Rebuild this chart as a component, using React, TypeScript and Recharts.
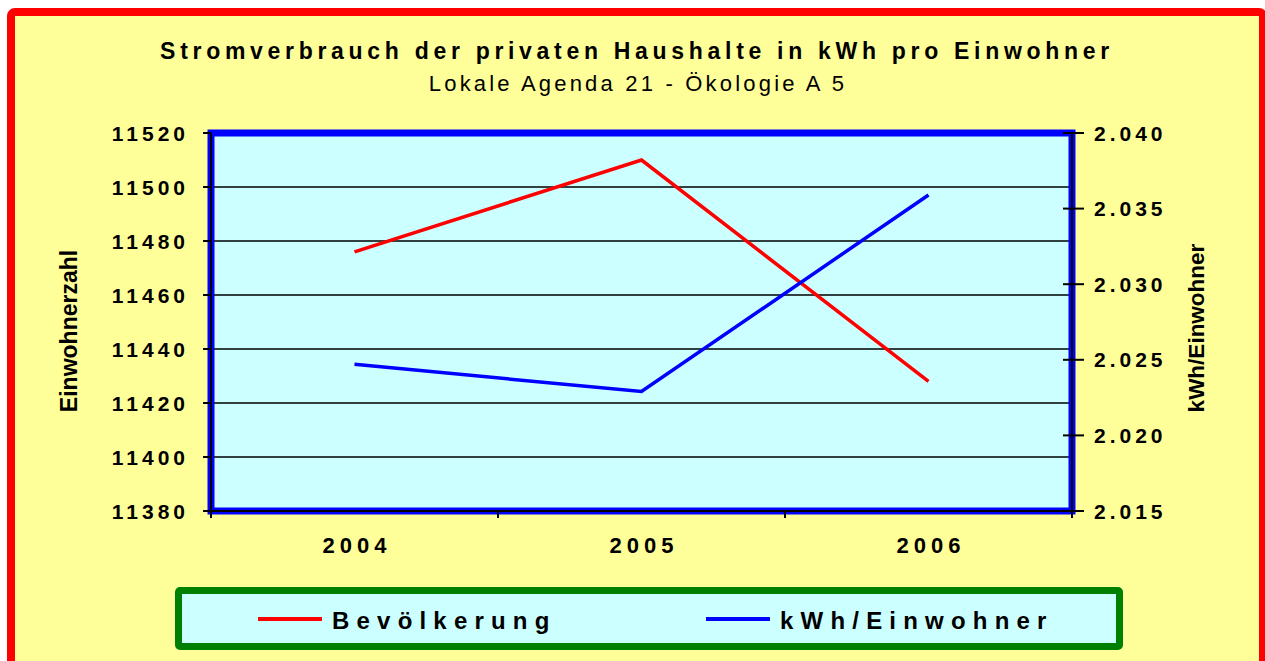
import React from 'react';
import { ComposedChart, Line, XAxis, YAxis, CartesianGrid, ReferenceArea, Legend } from 'recharts';

const years = ['2004', '2005', '2006'];
const bevoelkerung = [11476, 11510, 11428];
const kwhProEinwohner = [2.0247, 2.0229, 2.0359];
const leftTicks = [11380, 11400, 11420, 11440, 11460, 11480, 11500, 11520];
const rightTicks = [2.015, 2.02, 2.025, 2.03, 2.035, 2.04];
const titleText = 'Stromverbrauch der privaten Haushalte in kWh pro Einwohner';
const subtitleText = 'Lokale Agenda 21 - Ökologie A 5';
const leftAxisTitle = 'Einwohnerzahl';
const rightAxisTitle = 'kWh/Einwohner';
const seriesNames = ['Bevölkerung', 'kWh/Einwohner'];
const seriesColors = ['#FF0000', '#0000FF'];

const data = years.map((y, i) => ({ year: y, bev: bevoelkerung[i], kwh: kwhProEinwohner[i] }));

const W = 1265;
const H = 661;
const LEFT_W = 211;
const RIGHT_W = 193;
const TOP = 133;
const XAXIS_H = 76;
const LEGEND_H = 74;
const FONT = '"Liberation Sans", Arial, Helvetica, sans-serif';
const PLOT_W = W - LEFT_W - RIGHT_W;

const LeftTick = (props: any) => {
  const { x, y, payload } = props;
  return (
    <g>
      <line x1={x + 14} x2={x + 22} y1={y} y2={y} stroke="#000" strokeWidth={2} />
      <text x={x} y={y + 7.5} textAnchor="end" fontFamily={FONT} fontSize={21} fontWeight={700} fill="#000" style={{ letterSpacing: 4 }}>
        {payload.value}
      </text>
    </g>
  );
};

const RightTick = (props: any) => {
  const { x, y, payload } = props;
  return (
    <g>
      <line x1={x - 31} x2={x - 10} y1={y} y2={y} stroke="#000" strokeWidth={2} />
      <text x={x} y={y + 7.5} textAnchor="start" fontFamily={FONT} fontSize={21} fontWeight={700} fill="#000" style={{ letterSpacing: 4 }}>
        {Number(payload.value).toFixed(3)}
      </text>
    </g>
  );
};

const XTick = (props: any) => {
  const { x, y, payload, index } = props;
  const bw = PLOT_W / years.length;
  return (
    <g>
      <line x1={x - bw / 2} x2={x - bw / 2} y1={y} y2={y + 7} stroke="#000" strokeWidth={2} />
      {index === years.length - 1 && (
        <line x1={x + bw / 2} x2={x + bw / 2} y1={y} y2={y + 7} stroke="#000" strokeWidth={2} />
      )}
      <text x={x + 2.5} y={y + 42} textAnchor="middle" fontFamily={FONT} fontSize={22} fontWeight={700} fill="#000" style={{ letterSpacing: 5 }}>
        {payload.value}
      </text>
    </g>
  );
};

const LeftLabel = (props: any) => {
  const vb = props.viewBox || { x: 0, y: TOP, width: LEFT_W, height: 378 };
  const cx = vb.x + 77;
  const cy = vb.y + vb.height / 2 + 9;
  return (
    <text x={cx} y={cy} transform={`rotate(-90, ${cx}, ${cy})`} textAnchor="middle" fontFamily={FONT} fontSize={23} fontWeight={700} fill="#000">
      {leftAxisTitle}
    </text>
  );
};

const RightLabel = (props: any) => {
  const vb = props.viewBox || { x: W - RIGHT_W, y: TOP, width: RIGHT_W, height: 378 };
  const cx = vb.x + 132;
  const cy = vb.y + vb.height / 2 + 6;
  return (
    <text x={cx} y={cy} transform={`rotate(-90, ${cx}, ${cy})`} textAnchor="middle" fontFamily={FONT} fontSize={22.5} fontWeight={700} fill="#000">
      {rightAxisTitle}
    </text>
  );
};

const LegendContent = () => (
  <div style={{ height: LEGEND_H, position: 'relative', width: W }}>
    <div
      style={{
        position: 'absolute',
        left: 175,
        top: 0,
        width: 948,
        height: 63,
        boxSizing: 'border-box',
        border: '7px solid #008000',
        borderRadius: 5,
        background: '#CCFFFF',
      }}
    >
      {seriesNames.map((name, i) => (
        <div
          key={name}
          style={{
            position: 'absolute',
            left: 76 + i * 448,
            top: 0,
            height: 49,
            display: 'flex',
            alignItems: 'center',
          }}
        >
          <div style={{ width: 64, height: 4, background: seriesColors[i], marginRight: 10 }} />
          <span
            style={{
              fontFamily: FONT,
              fontSize: 24,
              fontWeight: 700,
              letterSpacing: 7.2,
              color: '#000',
              whiteSpace: 'nowrap',
              lineHeight: '24px',
              marginTop: 4,
            }}
          >
            {name}
          </span>
        </div>
      ))}
    </div>
  </div>
);

export default function App() {
  return (
    <div style={{ position: 'absolute', left: 0, top: 0, width: W, height: H, overflow: 'hidden', background: '#fff' }}>
      <div
        style={{
          position: 'absolute',
          left: 7,
          top: 8,
          width: 1260,
          height: 661,
          boxSizing: 'border-box',
          border: '8px solid #FF0000',
          borderRadius: 8,
          background: '#FFFF99',
        }}
      />
      <svg width={W} height={120} style={{ position: 'absolute', left: 0, top: 0 }}>
        <text x={637} y={58.5} textAnchor="middle" fontFamily={FONT} fontSize={23} fontWeight={700} fill="#000" style={{ letterSpacing: 4.7 }}>
          {titleText}
        </text>
        <text x={638} y={91} textAnchor="middle" fontFamily={FONT} fontSize={22} fill="#000" style={{ letterSpacing: 3.2 }}>
          {subtitleText}
        </text>
      </svg>
      <div style={{ position: 'absolute', left: 0, top: 0 }}>
        <ComposedChart width={W} height={H} data={data} margin={{ top: TOP, right: 0, bottom: 0, left: 0 }}>
          <CartesianGrid yAxisId="left" vertical={false} horizontal stroke="#000" strokeWidth={1.6} fill="#CCFFFF" fillOpacity={1} />
          <ReferenceArea
            yAxisId="left"
            y1={leftTicks[0]}
            y2={leftTicks[leftTicks.length - 1]}
            fill="none"
            fillOpacity={0}
            stroke="#0000FF"
            strokeWidth={7}
            ifOverflow="visible"
          />
          <XAxis
            dataKey="year"
            scale="band"
            height={XAXIS_H}
            tickLine={false}
            tickSize={0}
            tickMargin={0}
            axisLine={{ stroke: '#000', strokeWidth: 2 }}
            tick={<XTick />}
            interval={0}
          />
          <YAxis
            yAxisId="left"
            orientation="left"
            width={LEFT_W}
            domain={[leftTicks[0], leftTicks[leftTicks.length - 1]]}
            ticks={leftTicks}
            interval={0}
            tickLine={false}
            tickSize={0}
            tickMargin={22}
            axisLine={{ stroke: '#000', strokeWidth: 2 }}
            tick={<LeftTick />}
            label={{ content: <LeftLabel /> }}
          />
          <YAxis
            yAxisId="right"
            orientation="right"
            width={RIGHT_W}
            domain={[rightTicks[0], rightTicks[rightTicks.length - 1]]}
            ticks={rightTicks}
            interval={0}
            tickLine={false}
            tickSize={0}
            tickMargin={22}
            axisLine={{ stroke: '#000', strokeWidth: 2 }}
            tick={<RightTick />}
            label={{ content: <RightLabel /> }}
          />
          <Legend verticalAlign="bottom" align="left" height={LEGEND_H} content={<LegendContent />} />
          <Line
            yAxisId="left"
            type="linear"
            dataKey="bev"
            name={seriesNames[0]}
            stroke={seriesColors[0]}
            strokeWidth={3.5}
            dot={false}
            activeDot={false}
            isAnimationActive={false}
          />
          <Line
            yAxisId="right"
            type="linear"
            dataKey="kwh"
            name={seriesNames[1]}
            stroke={seriesColors[1]}
            strokeWidth={3.5}
            dot={false}
            activeDot={false}
            isAnimationActive={false}
          />
        </ComposedChart>
      </div>
    </div>
  );
}
